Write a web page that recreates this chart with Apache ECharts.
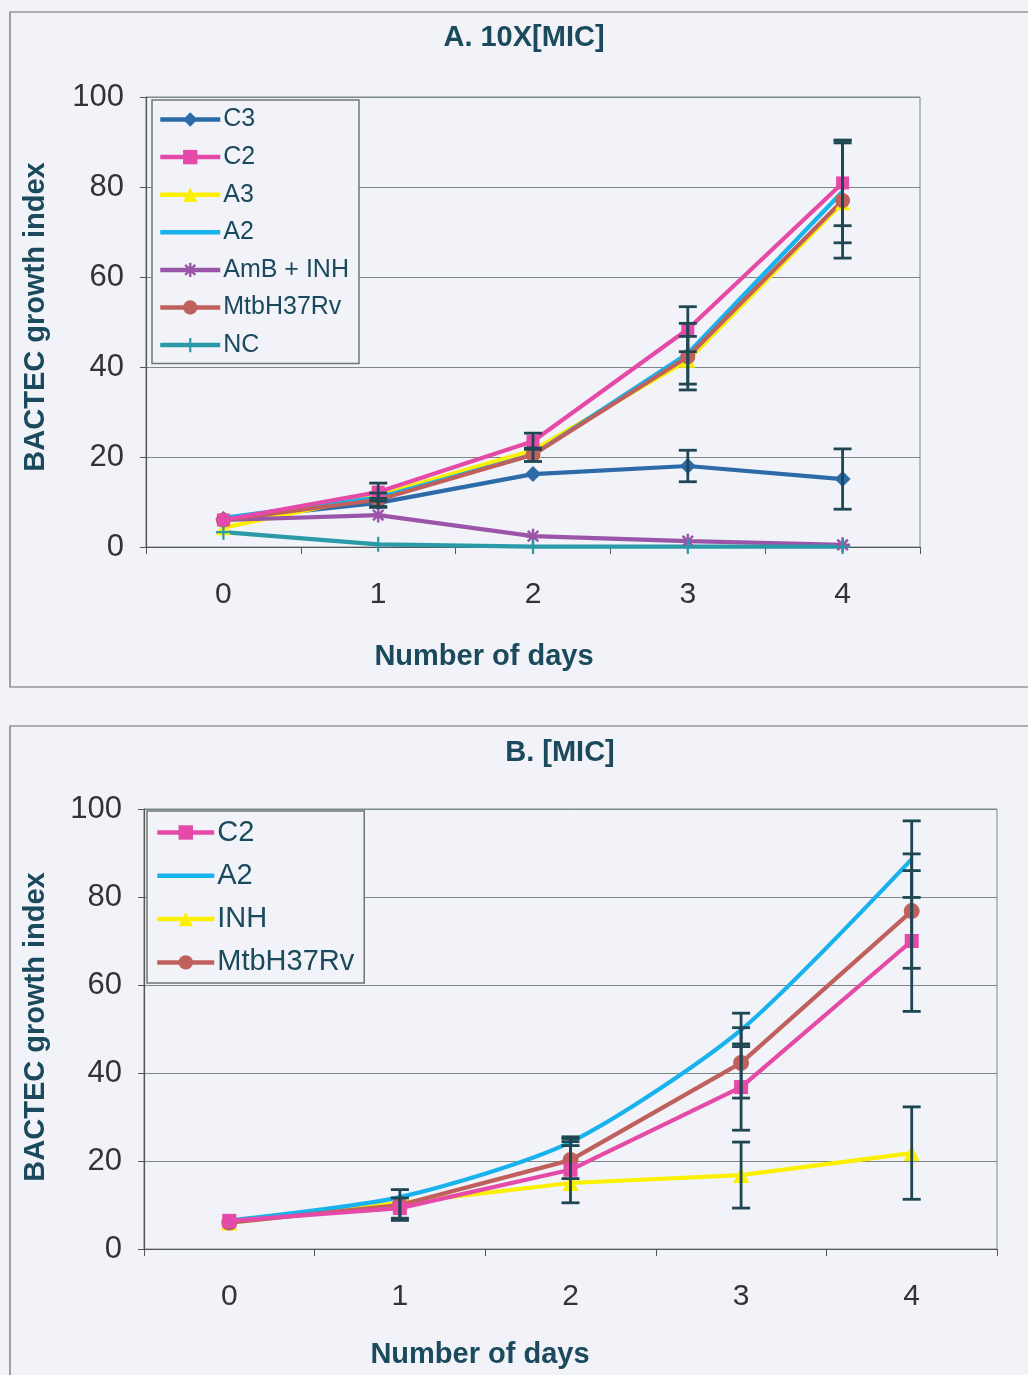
<!DOCTYPE html>
<html><head><meta charset="utf-8">
<script src="https://cdn.jsdelivr.net/npm/echarts@6/dist/echarts.min.js"></script>
<style>html,body{margin:0;padding:0;background:#f2f3f9;}#c{width:1028px;height:1375px;}</style>
</head><body><div id="c"></div>
<script>
const days = ['0', '1', '2', '3', '4'];
const yTicks = [0, 20, 40, 60, 80, 100];

// Panel A: 10X[MIC]
const c3A = [6.2, 9.8, 16.2, 18.0, 15.1];
const c2A = [6.0, 12.2, 23.5, 48.4, 80.9];
const a3A = [4.3, 11.5, 21.5, 41.5, 76.5];
const a2A = [6.5, 11.0, 20.5, 43.0, 79.0];
const ambInhA = [6.0, 7.1, 2.4, 1.3, 0.5];
const mtbA = [6.0, 10.5, 20.5, 42.3, 77.0];
const ncA = [3.3, 0.6, 0.1, 0.1, 0.1];
const c3ErrA = [0, 1.0, 0, 3.5, 6.7];
const c2ErrA = [0, 2.0, 1.8, 5.0, 9.5];
const a3ErrA = [0, 0, 0, 5.3, 0];
const a2ErrA = [0, 0, 0, 0, 11.4];
const mtbErrA = [0, 1.5, 1.5, 7.4, 12.8];

// Panel B: [MIC]
const c2B = [6.4, 9.3, 18.0, 36.8, 70.0];
const a2B = [6.5, 11.8, 24.3, 49.8, 88.6];
const inhB = [6.0, 10.5, 15.0, 16.8, 21.8];
const mtbB = [6.0, 10.0, 20.2, 42.3, 76.8];
const c2ErrB = [0, 2.3, 7.5, 9.8, 16.0];
const a2ErrB = [0, 0, 0.8, 3.8, 8.7];
const inhErrB = [0, 0, 0, 7.5, 10.5];
const mtbErrB = [0, 3.5, 4.2, 8.0, 13.0];

const COL = {c3:'#2c6aa8', c2:'#e64aa8', a3:'#fbf000', a2:'#18b2ec', amb:'#9b55a8', mtb:'#c0605c', nc:'#2a9aa8'};
const FONT = "'Liberation Sans', Arial, sans-serif";
const TXT = '#1b4a5c';
const ERR = '#1f4753';
const asterisk = 'path://M-1,-6L1,-6L1,6L-1,6Z M-6,-1L6,-1L6,1L-6,1Z M-3.5,-4.9L4.9,3.5L3.5,4.9L-4.9,-3.5Z M3.5,-4.9L4.9,-3.5L-3.5,4.9L-4.9,3.5Z';
const plus = 'path://M-0.9,-6L0.9,-6L0.9,6L-0.9,6Z M-6,-0.9L6,-0.9L6,0.9L-6,0.9Z';

function errData(vals, errs) {
  const out = [];
  vals.forEach((v, i) => { if (errs[i]) out.push([i, v - errs[i], v + errs[i]]); });
  return out;
}
function errSeries(gi, data) {
  return {
    type: 'custom', xAxisIndex: gi, yAxisIndex: gi, z: 5, silent: true,
    encode: {x: 0, y: [1, 2]},
    data: data,
    renderItem: function (params, api) {
      const x = api.value(0);
      const lo = api.coord([x, api.value(1)]);
      const hi = api.coord([x, api.value(2)]);
      const w = 9;
      const st = {stroke: ERR, lineWidth: 2.8};
      return {type: 'group', children: [
        {type: 'line', shape: {x1: lo[0], y1: lo[1], x2: hi[0], y2: hi[1]}, style: st},
        {type: 'line', shape: {x1: lo[0] - w, y1: lo[1], x2: lo[0] + w, y2: lo[1]}, style: st},
        {type: 'line', shape: {x1: hi[0] - w, y1: hi[1], x2: hi[0] + w, y2: hi[1]}, style: st}
      ]};
    }
  };
}
function line(gi, name, data, color, symbol, size, extra) {
  return Object.assign({
    type: 'line', name: name, xAxisIndex: gi, yAxisIndex: gi, data: data,
    symbol: symbol, symbolSize: size, showSymbol: symbol !== 'none',
    lineStyle: {color: color, width: 4.2},
    itemStyle: {color: color, borderWidth: 0},
    z: 3
  }, extra || {});
}
function xAxis(gi) {
  return {
    type: 'category', gridIndex: gi, data: days, boundaryGap: true,
    axisLine: {lineStyle: {color: '#555', width: 1.2}},
    axisTick: {show: true, length: 7, lineStyle: {color: '#555'}},
    axisLabel: {color: '#333', fontSize: 30, fontFamily: FONT, margin: 33}
  };
}
function yAxis(gi) {
  return {
    type: 'value', gridIndex: gi, min: yTicks[0], max: yTicks[yTicks.length - 1], interval: 20,
    axisLine: {show: true, lineStyle: {color: '#555', width: 1.2}},
    axisTick: {show: true, length: 6, lineStyle: {color: '#555'}},
    axisLabel: {color: '#333', fontSize: 31, fontFamily: FONT, margin: 22},
    splitLine: {lineStyle: {color: '#7d8888', width: 1}}
  };
}
function legItem(name, color, hideSymbol) {
  const it = {name: name, lineStyle: {color: color, width: 4.5}};
  if (hideSymbol) it.itemStyle = {opacity: 0};
  return it;
}

const chart = echarts.init(document.getElementById('c'));
chart.setOption({
  animation: false,
  backgroundColor: '#f2f3f9',
  grid: [
    {left: 146, top: 97, width: 774, height: 450, show: true, borderColor: '#7d8888', borderWidth: 1, backgroundColor: 'transparent'},
    {left: 144, top: 809, width: 853, height: 440, show: true, borderColor: '#7d8888', borderWidth: 1, backgroundColor: 'transparent'}
  ],
  xAxis: [xAxis(0), xAxis(1)],
  yAxis: [yAxis(0), yAxis(1)],
  legend: [
    {
      data: [legItem('C3', COL.c3), legItem('C2', COL.c2), legItem('A3', COL.a3), legItem('A2', COL.a2, true),
             legItem('AmB + INH', COL.amb), legItem('MtbH37Rv', COL.mtb), legItem('NC', COL.nc)],
      orient: 'vertical', left: 152, top: 100, selectedMode: false,
      itemWidth: 60, itemHeight: 18, itemGap: 12.6,
      padding: [7, 10, 6, 6],
      borderColor: '#6e7777', borderWidth: 1.5, backgroundColor: '#f2f3f9',
      textStyle: {color: TXT, fontSize: 25, fontFamily: FONT, lineHeight: 25, padding: [0, 0, 0, -2]}
    },
    {
      data: [legItem('C2', COL.c2), legItem('A2', COL.a2, true), legItem('INH', COL.a3), legItem('MtbH37Rv', COL.mtb)],
      orient: 'vertical', left: 147, top: 811, selectedMode: false,
      itemWidth: 57, itemHeight: 18, itemGap: 14.3,
      padding: [7, 10, 6, 8],
      borderColor: '#6e7777', borderWidth: 1.5, backgroundColor: '#f2f3f9',
      textStyle: {color: TXT, fontSize: 29, fontFamily: FONT, lineHeight: 29, padding: [0, 0, 0, -2]}
    }
  ],
  graphic: [
    {type: 'rect', shape: {x: 10, y: 12, width: 1030, height: 675}, style: {fill: 'none', stroke: '#6a6a6a', lineWidth: 1.2}, silent: true, z: -1},
    {type: 'rect', shape: {x: 10, y: 726, width: 1030, height: 670}, style: {fill: 'none', stroke: '#6a6a6a', lineWidth: 1.2}, silent: true, z: -1},
    {type: 'text', x: 524, y: 38, style: {text: 'A. 10X[MIC]', fill: TXT, font: "bold 29px " + FONT, textAlign: 'center', textVerticalAlign: 'middle'}},
    {type: 'text', x: 484, y: 657, style: {text: 'Number of days', fill: TXT, font: "bold 29px " + FONT, textAlign: 'center', textVerticalAlign: 'middle'}},
    {type: 'text', x: 36, y: 317, rotation: Math.PI / 2, style: {text: 'BACTEC growth index', fill: TXT, font: "bold 29px " + FONT, textAlign: 'center', textVerticalAlign: 'middle'}},
    {type: 'text', x: 560, y: 753, style: {text: 'B. [MIC]', fill: TXT, font: "bold 29px " + FONT, textAlign: 'center', textVerticalAlign: 'middle'}},
    {type: 'text', x: 480, y: 1355, style: {text: 'Number of days', fill: TXT, font: "bold 29px " + FONT, textAlign: 'center', textVerticalAlign: 'middle'}},
    {type: 'text', x: 36, y: 1027, rotation: Math.PI / 2, style: {text: 'BACTEC growth index', fill: TXT, font: "bold 29px " + FONT, textAlign: 'center', textVerticalAlign: 'middle'}}
  ],
  series: [
    line(0, 'C3', c3A, COL.c3, 'diamond', 16),
    line(0, 'A3', a3A, COL.a3, 'triangle', 15),
    line(0, 'A2', a2A, COL.a2, 'none', 0),
    line(0, 'AmB + INH', ambInhA, COL.amb, asterisk, 15),
    line(0, 'MtbH37Rv', mtbA, COL.mtb, 'circle', 15),
    line(0, 'NC', ncA, COL.nc, plus, 15),
    line(0, 'C2', c2A, COL.c2, 'rect', 13, {z: 4}),
    errSeries(0, [].concat(errData(c3A, c3ErrA), errData(c2A, c2ErrA), errData(a3A, a3ErrA), errData(a2A, a2ErrA), errData(mtbA, mtbErrA))),

    line(1, 'INH', inhB, COL.a3, 'triangle', 16),
    line(1, 'A2', a2B, COL.a2, 'none', 0, {smooth: 0.25}),
    line(1, 'MtbH37Rv', mtbB, COL.mtb, 'circle', 16),
    line(1, 'C2', c2B, COL.c2, 'rect', 14, {z: 4}),
    errSeries(1, [].concat(errData(c2B, c2ErrB), errData(a2B, a2ErrB), errData(inhB, inhErrB), errData(mtbB, mtbErrB)))
  ]
});
</script></body></html>
